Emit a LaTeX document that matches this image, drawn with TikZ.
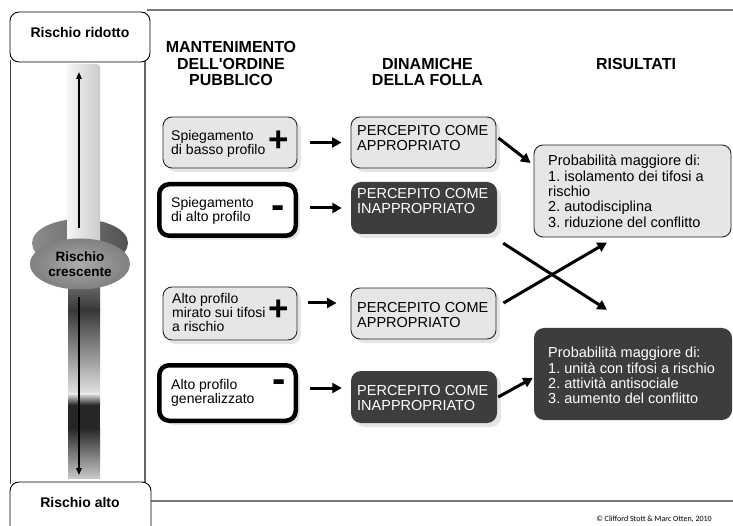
\documentclass[tikz,border=0pt]{standalone}
\usepackage{fontspec}
\setmainfont{Liberation Sans}[Ligatures=TeXOff]
\newfontfamily\calib{Carlito}
\usetikzlibrary{arrows.meta,calc,shapes.geometric,shadows}
\definecolor{boxlight}{HTML}{E6E6E6}
\definecolor{boxdark}{HTML}{3D3D3D}
\definecolor{framegray}{HTML}{7A7A7A}
\frenchspacing
\begin{document}
\begin{tikzpicture}[x=1pt,y=-1pt,
  lightbox/.style={draw=black!85, line width=0.9pt, fill=boxlight, rounded corners=9pt, inner sep=0pt},
  thickbox/.style={draw=black, line width=4.5pt, fill=white, rounded corners=10pt, inner sep=0pt},
  darkbox/.style={fill=boxdark, rounded corners=10pt, inner sep=0pt},
  shad/.style={drop shadow={shadow xshift=4pt, shadow yshift=-4pt, fill=black, opacity=0.10}},
  sidebox/.style={draw=black, line width=0.9pt, fill=white, rounded corners=9pt, inner sep=0pt},
  txt/.style={anchor=north west, inner sep=0pt, align=left, font=\fontsize{14}{14}\selectfont},
  mtxt/.style={anchor=north west, inner sep=0pt, align=left, font=\fontsize{14.5}{15}\selectfont},
  rtxt/.style={anchor=north west, inner sep=0pt, align=left, font=\fontsize{14.5}{15.3}\selectfont},
  hdr/.style={inner sep=0pt, align=center, font=\bfseries\fontsize{16}{16.5}\selectfont},
  plussign/.style={inner sep=0pt, anchor=base, font=\bfseries\fontsize{35}{35}\selectfont},
  minussign/.style={inner sep=0pt, anchor=base, font=\bfseries\fontsize{40}{40}\selectfont},
  arr/.style={line width=3pt, -{Triangle[length=9.5pt,width=10pt]}},
  sarr/.style={line width=1.6pt, -{Triangle[length=7pt,width=5.5pt]}}
]
\useasboundingbox (0,0) rectangle (733,526);
\fill[white] (0,0) rectangle (733,526);

% frame lines
\draw[framegray, line width=2pt] (147,10) -- (733,10);
\draw[framegray, line width=2pt] (151,501) -- (733,501);
\draw[black!75, line width=0.8pt] (10.5,60) -- (10.5,484);
\draw[black!60, line width=2.5pt] (145,60) -- (145,484);

% slider: back ellipse
\shade[left color=black!45, right color=black!68] (80,243) ellipse [x radius=48, y radius=24];
% upper track
\shade[left color=black!4, right color=black!20, rounded corners=3pt] (67,64) rectangle (100,252);
% lower track
\shade[top color=black!55, bottom color=black!78] (68,280) rectangle (100,310);
\shade[top color=black!78, bottom color=black!12] (68,310) rectangle (100,393);
\shade[top color=black!5, bottom color=black!85] (68,393) rectangle (100,405);
\fill[black!85] (68,405) rectangle (100,428);
\shade[top color=black!85, bottom color=black!22] (68,428) rectangle (100,478);
% front ellipse
\node[ellipse, minimum width=100pt, minimum height=51pt, inner sep=0pt, shade, inner color=black!33, outer color=black!50,
      align=center, font=\bfseries\fontsize{13.5}{14.5}\selectfont] (risk) at (80,264) {Rischio\\crescente};
\coordinate (upS) at (79,228);
\coordinate (upE) at (79,72);
\coordinate (dnS) at (79,297);
\coordinate (dnE) at (79,475);
\draw[sarr] (upS) -- (upE);
\draw[sarr] (dnS) -- (dnE);

% side boxes
\node[sidebox, minimum width=140pt, minimum height=50pt] (topbox) at (80,37) {};
\node[inner sep=0pt, font=\bfseries\fontsize{14}{14}\selectfont] (toptext) at (80,32.5) {Rischio ridotto};
\draw[sidebox] (10,482) rectangle (151,560);
\node[inner sep=0pt, font=\bfseries\fontsize{14}{14}\selectfont] (bottext) at (80,502.5) {Rischio alto};

% headers
\node[hdr] (h1) at (231,63.5) {MANTENIMENTO\\DELL'ORDINE\\PUBBLICO};
\node[hdr] (h2) at (427.5,72) {DINAMICHE\\DELLA FOLLA};
\node[hdr] (h3) at (636,64) {RISULTATI};

% left column
\node[lightbox, shad, minimum width=134pt, minimum height=51pt] (L1) at (230,142.5) {};
\node[thickbox, shad, minimum width=136.5pt, minimum height=51.5pt] (L2) at (227.5,210) {};
\node[lightbox, shad, minimum width=134pt, minimum height=53pt] (L3) at (230,313.5) {};
\node[thickbox, shad, minimum width=136.5pt, minimum height=55.5pt] (L4) at (227.5,393) {};
\node[txt] (L1t) at (171,130) {Spiegamento\\di basso profilo};
\node[txt] (L2t) at (171,197) {Spiegamento\\di alto profilo};
\node[txt] (L3t) at (172,293) {Alto profilo\\mirato sui tifosi\\a rischio};
\node[txt] (L4t) at (171,379) {Alto profilo\\generalizzato};
\node[plussign] (s1) at (279,152) {+};
\node[minussign] (s2) at (278,218.5) {-};
\node[plussign] (s3) at (279,320) {+};
\node[minussign] (s4) at (279,392.5) {-};

% middle column
\node[lightbox, shad, minimum width=145pt, minimum height=51pt] (M1) at (423.5,142.5) {};
\node[darkbox, shad, minimum width=146pt, minimum height=52pt] (M2) at (424,208) {};
\node[lightbox, shad, minimum width=145pt, minimum height=51pt] (M3) at (423.5,313.5) {};
\node[darkbox, shad, minimum width=146pt, minimum height=52pt] (M4) at (424,397) {};
\node[mtxt] (M1t) at (357,125) {PERCEPITO COME\\APPROPRIATO};
\node[mtxt, text=white] (M2t) at (357,188) {PERCEPITO COME\\INAPPROPRIATO};
\node[mtxt] (M3t) at (357,302) {PERCEPITO COME\\APPROPRIATO};
\node[mtxt, text=white] (M4t) at (357,385) {PERCEPITO COME\\INAPPROPRIATO};

% results
\node[lightbox, minimum width=197pt, minimum height=92pt] (R1) at (632.5,191) {};
\node[darkbox, minimum width=198pt, minimum height=92pt] (R2) at (633,374) {};
\node[rtxt] (R1t) at (548,155) {Probabilità maggiore di:\\1. isolamento dei tifosi a\\rischio\\2. autodisciplina\\3. riduzione del conflitto};
\node[rtxt, text=white] (R2t) at (548,347) {Probabilità maggiore di:\\1. unità con tifosi a rischio\\2. attività antisociale\\3. aumento del conflitto};

% arrows
\draw[arr, shorten <=13pt, shorten >=9pt] (L1.east) -- (M1.west);
\draw[arr, shorten <=12pt, shorten >=9pt] (L2.east |- M2.west) -- (M2.west);
\draw[arr, shorten <=11pt, shorten >=14pt] ($(L3.east)+(0,-10.5)$) -- ($(M3.west)+(0,-10.5)$);
\draw[arr, shorten <=12pt, shorten >=9pt] ($(L4.east)+(0,-5)$) -- ($(M4.west)+(0,-9)$);
\draw[arr] ($(M1.east)+(2,-4.5)$) -- ($(R1.west)+(-3,-28)$);
\draw[arr] ($(M2.south east)+(6,9)$) -- ($(R2.north)+(-26,-18)$);
\draw[arr] ($(M3.east)+(7,-10.5)$) -- ($(R1.south)+(-25.5,5)$);
\draw[arr] ($(M4.east)+(1,0)$) -- ($(R2.west)+(-1,4)$);

% copyright
\node[inner sep=0pt, font=\calib\fontsize{8}{9}\selectfont] (copy) at (654,519) {© Clifford Stott \& Marc Otten, 2010};
\end{tikzpicture}
\end{document}
